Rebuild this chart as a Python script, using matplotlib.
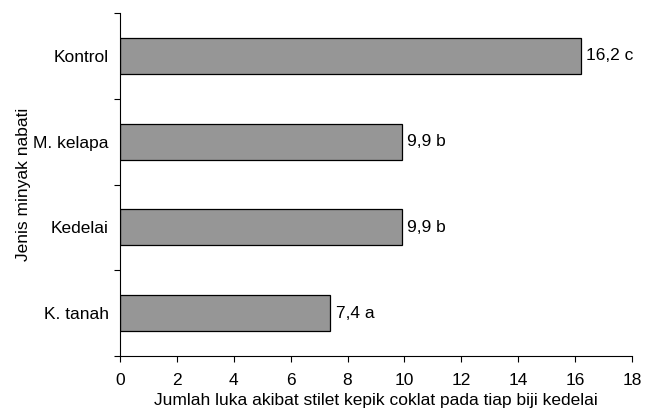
import numpy as np
import matplotlib.pyplot as plt

plt.rcParams['font.family'] = ['Liberation Sans', 'DejaVu Sans']

# Jumlah luka per perlakuan minyak nabati
categories = ['Kontrol', 'M. kelapa', 'Kedelai', 'K. tanah']
values = [16.2, 9.9, 9.9, 7.4]
notations = ['c', 'b', 'b', 'a']

fs = 12.5

fig = plt.figure(figsize=(6.47, 4.15), dpi=100)
ax = fig.add_axes([120 / 647, 59 / 415, 512 / 647, 343 / 415])

pos = np.arange(len(categories))[::-1]
ax.barh(pos, values, height=0.42, color='#969696', edgecolor='black', linewidth=0.9)

for p, v, n in zip(pos, values, notations):
    ax.text(v + 0.2, p, '{} {}'.format(str(v).replace('.', ','), n),
            va='center', ha='left', fontsize=fs)

ax.set_xlim(0, 18)
ax.set_ylim(-0.5, 3.5)
ax.set_xticks(np.arange(0, 19, 2))
ax.tick_params(axis='x', labelsize=fs, direction='out', length=4, pad=8)

# garis pemisah kategori di sumbu y
ax.set_yticks(np.arange(-0.5, 4, 1))
ax.set_yticklabels([])
ax.set_yticks(pos, minor=True)
ax.set_yticklabels(categories, minor=True, fontsize=fs)
ax.tick_params(axis='y', which='major', direction='out', length=4)
ax.tick_params(axis='y', which='minor', length=0, pad=8)

ax.spines['top'].set_visible(False)
ax.spines['right'].set_visible(False)
ax.set_xlabel('Jumlah luka akibat stilet kepik coklat pada tiap biji kedelai', fontsize=fs, labelpad=4)
ax.set_ylabel('Jenis minyak nabati', fontsize=fs, labelpad=2)

fig.savefig('out.png', dpi=100)
